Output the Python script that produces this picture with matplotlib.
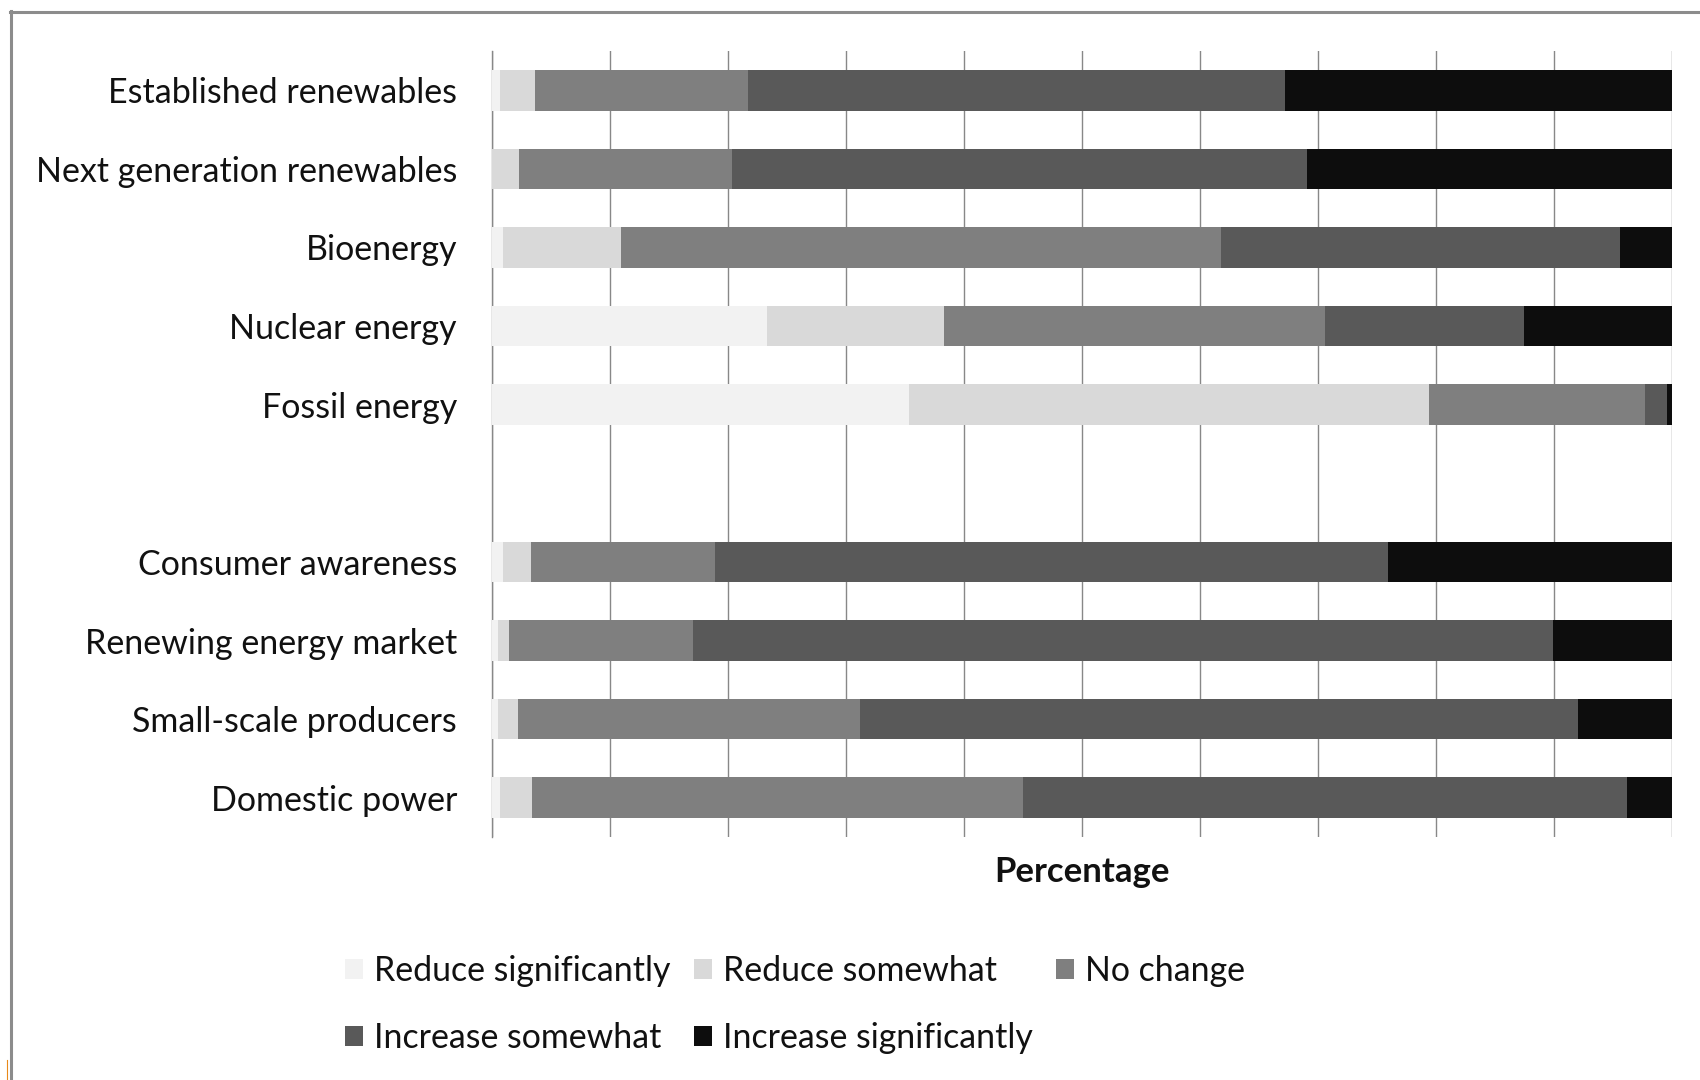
import matplotlib
matplotlib.use("Agg")
import matplotlib.pyplot as plt
from matplotlib.lines import Line2D
from matplotlib.patches import Patch
import numpy as np

# Survey categories (blank entry separates the two groups)
categories = [
    "Established renewables",
    "Next generation renewables",
    "Bioenergy",
    "Nuclear energy",
    "Fossil energy",
    "",
    "Consumer awareness",
    "Renewing energy market",
    "Small-scale producers",
    "Domestic power",
]

# Share of responses (%) per answer
reduce_significantly = [0.7, 0.0, 1.0, 23.3, 35.4, 0, 1.0, 0.5, 0.5, 0.7]
reduce_somewhat      = [3.0, 2.3, 10.0, 15.0, 44.0, 0, 2.3, 1.0, 1.7, 2.7]
no_change            = [18.0, 18.1, 50.8, 32.3, 18.3, 0, 15.6, 15.6, 29.0, 41.6]
increase_somewhat    = [45.5, 48.7, 33.8, 16.9, 1.9, 0, 57.0, 72.8, 60.8, 51.2]
increase_significantly = [32.8, 30.9, 4.4, 12.5, 0.4, 0, 24.1, 10.1, 8.0, 3.8]

series_names = ["Reduce significantly", "Reduce somewhat", "No change",
                "Increase somewhat", "Increase significantly"]
series_values = [reduce_significantly, reduce_somewhat, no_change,
                 increase_somewhat, increase_significantly]
series_colors = ["#f2f2f2", "#d9d9d9", "#7f7f7f", "#595959", "#0d0d0d"]

xticks = list(range(0, 101, 10))

plt.rcParams["font.family"] = ["Lato", "DejaVu Sans"]

W, H = 1700, 1080
fig = plt.figure(figsize=(W / 100, H / 100), dpi=100)
fig.patch.set_facecolor("white")

ax = fig.add_axes([491.6 / W, 1 - 837 / H, (1672 - 491.6) / W, (837 - 51) / H])

y = np.arange(len(categories))
left = np.zeros(len(categories))
handles = []
for name, vals, col in zip(series_names, series_values, series_colors):
    vals = np.asarray(vals, dtype=float)
    ax.barh(y, vals, left=left, height=0.515, color=col, linewidth=0, zorder=3)
    left += vals
    handles.append(Patch(facecolor=col, edgecolor="none", label=name))

ax.set_xlim(0, 100)
ax.set_ylim(len(categories) - 0.5, -0.5)
ax.set_xticks(xticks)
ax.set_xticklabels([])
ax.set_yticks(y)
ax.set_yticklabels(categories, fontsize=24.5, color="#111111")
ax.tick_params(axis="both", length=0)
ax.tick_params(axis="y", pad=25)

ax.grid(axis="x", color="#888888", linewidth=1.0, zorder=0)
ax.set_axisbelow(True)
for side in ["top", "right", "bottom"]:
    ax.spines[side].set_visible(False)
ax.spines["left"].set_color("#888888")
ax.spines["left"].set_linewidth(1.0)

ax.set_xlabel("Percentage", fontsize=25, fontweight="bold", labelpad=10, color="#111111")

# Legend laid out row by row: 3 entries on top, 2 below
order = [0, 3, 1, 4, 2]
fig.legend([handles[i] for i in order], [series_names[i] for i in order],
           ncol=3, loc="upper left", bbox_to_anchor=(345 / W, 1 - 955 / H),
           frameon=False, fontsize=24.4, borderpad=0, borderaxespad=0,
           handlelength=0.53, handleheight=0.53, handletextpad=0.33,
           columnspacing=0.68, labelspacing=1.02, labelcolor="#111111")

# Outer frame
fig.add_artist(Line2D([10.5 / W, 10.5 / W], [0, 1 - 11 / H], transform=fig.transFigure,
                      color="#8c8c8c", linewidth=2.2))
fig.add_artist(Line2D([10 / W, 1], [1 - 11.5 / H, 1 - 11.5 / H], transform=fig.transFigure,
                      color="#8c8c8c", linewidth=2.2))
fig.add_artist(Line2D([7 / W, 7 / W], [0, 20 / H], transform=fig.transFigure,
                      color="#e8891a", linewidth=0.8))

fig.savefig("out.png", dpi=100, facecolor="white")
